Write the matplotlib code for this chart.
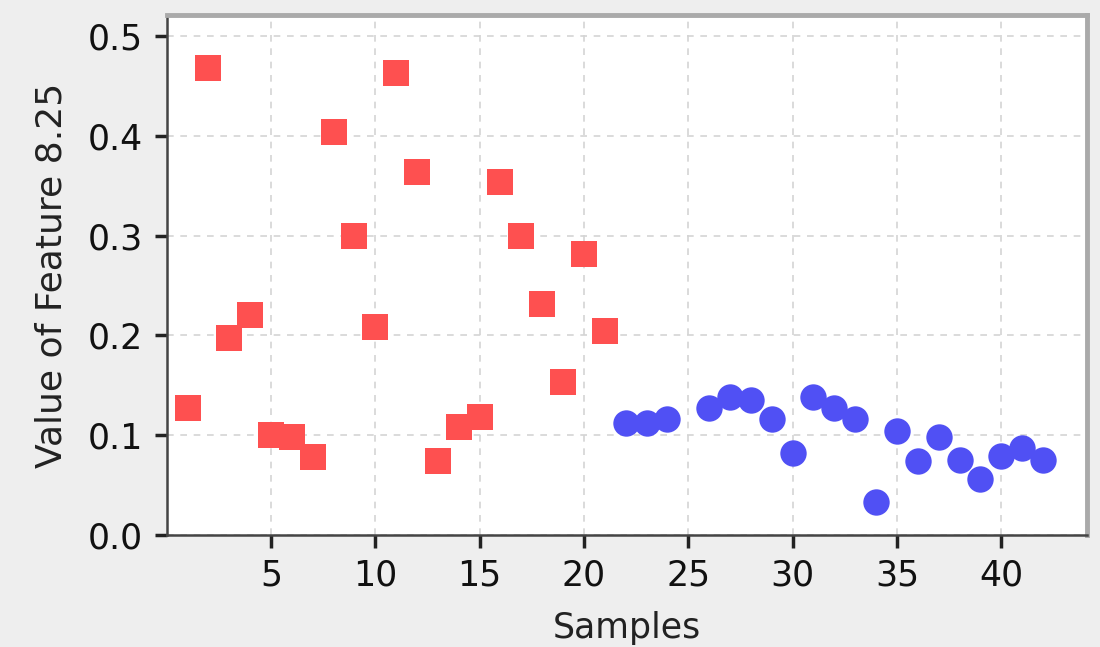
import numpy as np
import matplotlib.pyplot as plt

# class 1 (red squares) and class 2 (blue circles)
red_samples = list(range(1, 22))
red_values = [0.127, 0.468, 0.197, 0.220, 0.100, 0.098, 0.078, 0.404, 0.300, 0.208,
              0.463, 0.364, 0.074, 0.108, 0.118, 0.354, 0.300, 0.231, 0.153, 0.282, 0.204]

blue_samples = [22, 23, 24, 26, 27, 28, 29, 30, 31, 32, 33, 34, 35, 36, 37, 38, 39, 40, 41, 42]
blue_values = [0.112, 0.112, 0.116, 0.127, 0.138, 0.135, 0.116, 0.082, 0.138, 0.127,
               0.116, 0.033, 0.104, 0.074, 0.098, 0.075, 0.056, 0.079, 0.087, 0.075]

x_ticks = [5, 10, 15, 20, 25, 30, 35, 40]
y_ticks = [0.0, 0.1, 0.2, 0.3, 0.4, 0.5]

fig = plt.figure(figsize=(11, 6.47), dpi=100, facecolor='#eeeeee')
ax = fig.add_axes([0.1515, 0.173, 0.8365, 0.804])
ax.set_facecolor('white')

ax.plot(red_samples, red_values, linestyle='none', marker='s', markersize=18.5,
        markeredgewidth=0, color='#fe5050', zorder=3)
ax.plot(blue_samples, blue_values, linestyle='none', marker='o', markersize=19,
        markeredgewidth=0, color='#5050f4', zorder=3)

ax.set_xlim(0, 44.1)
ax.set_ylim(0, 0.521)
ax.set_xticks(x_ticks)
ax.set_yticks(y_ticks)
ax.set_yticklabels(['%.1f' % v for v in y_ticks])

ax.grid(True, linestyle=(0, (4, 4)), color='#d4d4d4', linewidth=1.2)
ax.set_axisbelow(True)

for side in ['left', 'bottom']:
    ax.spines[side].set_color('#444444')
    ax.spines[side].set_linewidth(1.8)
for side in ['top', 'right']:
    ax.spines[side].set_color('#aaaaaa')
    ax.spines[side].set_linewidth(3.5)

ax.tick_params(axis='both', direction='out', length=9, width=2.5, color='#222222',
               labelsize=25, pad=8, labelcolor='#111111')

ax.set_xlabel('Samples', fontsize=25, color='#222222', labelpad=13)
ax.set_ylabel('Value of Feature 8.25', fontsize=26, color='#222222', labelpad=14)

fig.savefig('out.png', dpi=100, facecolor=fig.get_facecolor())
